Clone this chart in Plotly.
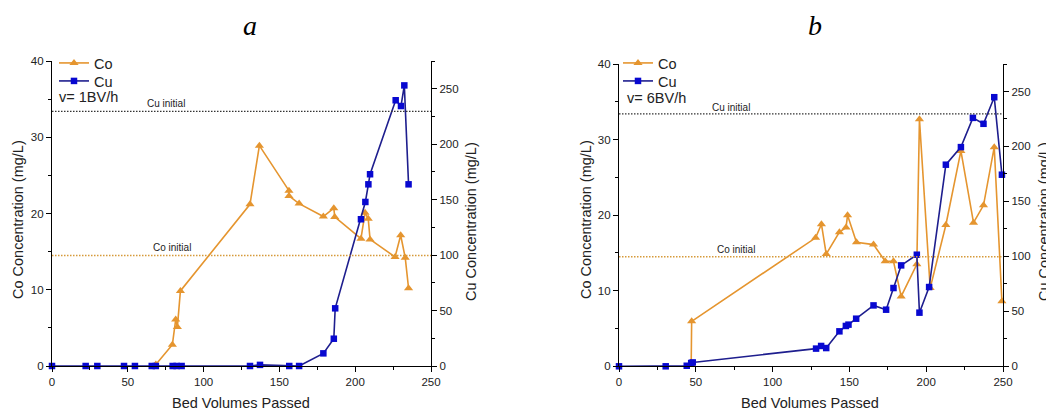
import plotly.graph_objects as go

# browser page has an 8px default body margin; the figure is sized to fill the rest
OFF = 8
W, H = 1054 - OFF, 412 - OFF

# ---------------- data ----------------
# panel a (v = 1 BV/h)
a_co_x = [68.5, 79.4, 81.6, 82.7, 84.7, 130.6, 136.8, 156.3, 156.3, 163.0, 179.0, 185.9, 186.5,
          203.8, 206.5, 208.6, 209.8, 226.3, 230.0, 233.0, 235.2]
a_co_y = [0.2, 2.8, 6.1, 5.1, 9.85, 21.2, 28.9, 23.0, 22.3, 21.3, 19.6, 20.7, 19.55,
          16.7, 20.1, 19.3, 16.6, 14.3, 17.15, 14.2, 10.2]
a_cu_x = [0, 22.2, 29.9, 47.5, 54.7, 65.8, 68.5, 79.6, 82.2, 85.5, 130.6, 137.2, 156.5, 163.0,
          179.0, 185.9, 186.8, 203.8, 206.7, 208.7, 209.8, 226.7, 230.2, 232.4, 235.2]
a_cu_y = [0, 0, 0, 0, 0, 0, 0, 0, 0, 0, 0, 1, 0, 0,
          11.4, 24.6, 52, 132.3, 147.9, 163.8, 172.9, 239.6, 234.4, 253, 163.8]

# panel b (v = 6 BV/h)
b_co_x = [47.0, 47.3, 128.0, 131.8, 134.9, 143.5, 147.8, 148.8, 154.6, 165.7, 173.3, 178.7,
          183.7, 193.9, 195.6, 202.6, 212.8, 222.6, 230.8, 237.3, 244.3, 249.3]
b_co_y = [0.2, 5.95, 17.0, 18.8, 14.85, 17.75, 18.35, 20.0, 16.4, 16.1, 13.9, 13.9,
          9.25, 13.5, 32.7, 10.35, 18.7, 28.5, 19.0, 21.3, 29.0, 8.6]
b_cu_x = [0, 30.4, 44.1, 47.0, 48.0, 128.3, 131.6, 134.9, 143.5, 147.7, 149.4, 154.4, 165.7,
          173.9, 178.7, 183.7, 193.9, 195.6, 201.9, 212.8, 222.6, 230.4, 237.3, 244.3, 249.3]
b_cu_y = [0, 0, 0.5, 3, 3.5, 16.1, 18.5, 16.6, 31.8, 36.7, 37.9, 43.3, 55.4,
          51.5, 71.2, 91.8, 101.5, 48.8, 72.1, 183.4, 199.4, 226, 220.6, 244.8, 174.3]

co_initial = 14.5             # mg/L, Co axis
cu_initial_on_co_axis = 33.4  # Cu initial reference line, drawn in Co-axis units
panel_titles = ["a", "b"]
speed_labels = ["v= 1BV/h", "v= 6BV/h"]

# ---------------- style ----------------
ORANGE = "#E5952F"
BLUE_LINE = "#1E1E8E"
BLUE_MK = "#0808D0"
FONT = "Liberation Sans"


def px_x(p):
    return (p - OFF) / W


def px_y(p):
    return 1 - (p - OFF) / H


fig = go.Figure()

panels = [
    dict(cox=a_co_x, coy=a_co_y, cux=a_cu_x, cuy=a_cu_y, xa="x", ya="y", ya2="y2",
         leg_co="legend", leg_cu="legend3"),
    dict(cox=b_co_x, coy=b_co_y, cux=b_cu_x, cuy=b_cu_y, xa="x2", ya="y3", ya2="y4",
         leg_co="legend2", leg_cu="legend4"),
]

for p in panels:
    fig.add_trace(go.Scatter(x=p["cox"], y=p["coy"], xaxis=p["xa"], yaxis=p["ya"], name="Co",
                             mode="lines+markers", legend=p["leg_co"], cliponaxis=False,
                             line=dict(color=ORANGE, width=1.6),
                             marker=dict(symbol="triangle-up", size=8, color=ORANGE)))
    fig.add_trace(go.Scatter(x=p["cux"], y=p["cuy"], xaxis=p["xa"], yaxis=p["ya2"], name="Cu",
                             mode="lines+markers", legend=p["leg_cu"], cliponaxis=False,
                             line=dict(color=BLUE_LINE, width=1.6),
                             marker=dict(symbol="square", size=6.5, color=BLUE_MK)))

axis_common = dict(showline=True, linecolor="black", linewidth=1.3, ticks="outside",
                   ticklen=5, tickwidth=1.2, tickcolor="black", showgrid=False, zeroline=False,
                   tickfont=dict(family=FONT, size=11.5, color="#222"))


def minor(d):
    return dict(ticks="outside", dtick=d, ticklen=3, tickcolor="black", tickwidth=1.1)


doms = {
    "a": dict(x=[px_x(52), px_x(431)], y=[px_y(366), px_y(61)]),
    "b": dict(x=[px_x(619), px_x(1003)], y=[px_y(366.3), px_y(64)]),
}


def leg(xpx, ypx):
    return dict(x=px_x(xpx), y=px_y(ypx), xanchor="left", yanchor="middle",
                bgcolor="rgba(0,0,0,0)", borderwidth=0,
                font=dict(family=FONT, size=14.5, color="#222"), itemwidth=30)


layout = dict(
    width=W, height=H, margin=dict(l=0, r=0, t=0, b=0, autoexpand=False), autosize=False,
    paper_bgcolor="white", plot_bgcolor="white",
    font=dict(family=FONT, color="#222"),
    xaxis=dict(domain=doms["a"]["x"], anchor="y", range=[0, 250], dtick=50, minor=minor(25),
               **axis_common),
    yaxis=dict(domain=doms["a"]["y"], anchor="x", range=[0, 40], dtick=10, minor=minor(5),
               **axis_common),
    yaxis2=dict(overlaying="y", anchor="x", side="right", range=[0, 275], dtick=50,
                minor=minor(25), **axis_common),
    xaxis2=dict(domain=doms["b"]["x"], anchor="y3", range=[0, 250], dtick=50, minor=minor(25),
                **axis_common),
    yaxis3=dict(domain=doms["b"]["y"], anchor="x2", range=[0, 40], dtick=10, minor=minor(5),
                **axis_common),
    yaxis4=dict(overlaying="y3", anchor="x2", side="right", range=[0, 275], dtick=50,
                minor=minor(25), **axis_common),
    legend=leg(54, 63),
    legend3=leg(54, 81),
    legend2=leg(618, 63),
    legend4=leg(618, 81),
    showlegend=True,
)
fig.update_layout(**layout)

shapes = []
annotations = []
for xa, ya in [("x", "y"), ("x2", "y3")]:
    shapes.append(dict(type="line", xref=f"{xa} domain", yref=ya, x0=0, x1=1,
                       y0=cu_initial_on_co_axis, y1=cu_initial_on_co_axis,
                       line=dict(color="#333", width=1.4, dash="1.5px,1.5px")))
    shapes.append(dict(type="line", xref=f"{xa} domain", yref=ya, x0=0, x1=1,
                       y0=co_initial, y1=co_initial,
                       line=dict(color="#D69A3A", width=1.4, dash="1.5px,1.5px")))

lab = [
    (145, 103, "Cu initial", 10),
    (151, 247, "Co initial", 10),
    (710, 107, "Cu initial", 10),
    (715, 249, "Co initial", 10),
    (57, 97, speed_labels[0], 14.5),
    (625, 98, speed_labels[1], 14.5),
]
for x, y, t, s in lab:
    annotations.append(dict(x=px_x(x), y=px_y(y), xref="paper", yref="paper", text=t,
                            showarrow=False, xanchor="left", yanchor="middle",
                            font=dict(family=FONT, size=s, color="#222")))

titles = [
    (241, 403, "Bed Volumes Passed", 0),
    (810, 403, "Bed Volumes Passed", 0),
    (18, 220, "Co Concentration (mg/L)", -90),
    (471, 222, "Cu Concentration (mg/L)", -90),
    (586, 220, "Co Concentration (mg/L)", -90),
    (1044, 222, "Cu Concentration (mg/L)", -90),
]
for x, y, t, ang in titles:
    annotations.append(dict(x=px_x(x), y=px_y(y), xref="paper", yref="paper", text=t,
                            showarrow=False, xanchor="center", yanchor="middle", textangle=ang,
                            font=dict(family=FONT, size=14.5, color="#222")))

for x, t in zip([250, 815], panel_titles):
    annotations.append(dict(x=px_x(x), y=px_y(25), xref="paper", yref="paper",
                            text=f"<i>{t}</i>", showarrow=False, xanchor="center",
                            yanchor="middle",
                            font=dict(family="Liberation Serif", size=28, color="black")))

fig.update_layout(shapes=shapes, annotations=annotations)
fig.write_html("out.html")
